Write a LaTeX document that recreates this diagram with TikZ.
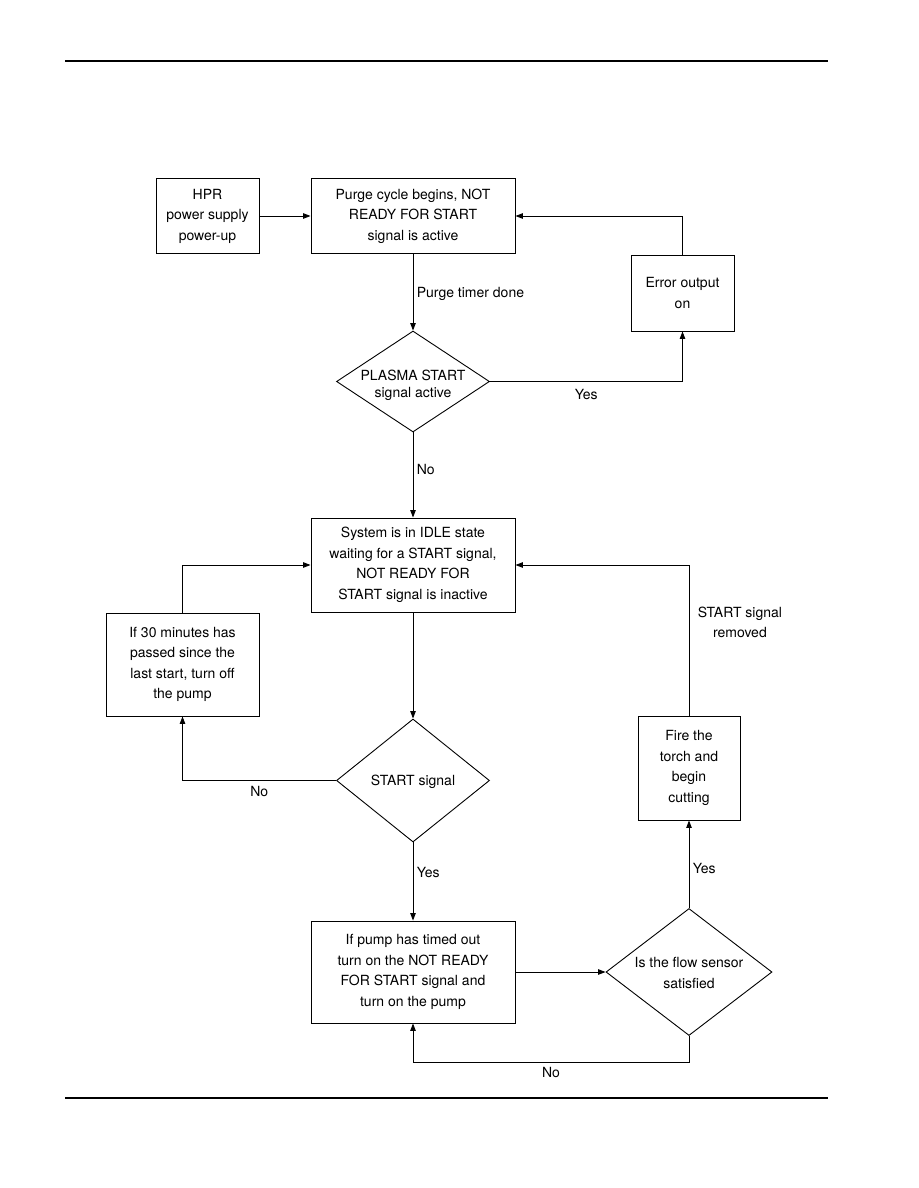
\documentclass[tikz,border=0pt]{standalone}
\usepackage{fontspec}
\setmainfont{TeX Gyre Heros}
\usetikzlibrary{arrows.meta,shapes.geometric}

\begin{document}
\begin{tikzpicture}[x=1pt, y=-1pt, >={Triangle[length=7.5pt,width=5.5pt]}, line width=0.9pt,
  font=\fontsize{14}{20.5}\selectfont,
  stepbox/.style={draw, align=center, inner sep=2pt},
  decision/.style={draw, diamond, inner sep=0pt}]
  \useasboundingbox (0,0) rectangle (918,1188);
  % page rules
  \draw[line width=1.2pt] (65,61) -- (828,61);
  \draw[line width=2.2pt] (65,1098) -- (828,1098);
  % ---------------------------------------------------------------- start-up
  \node[stepbox, minimum width=103pt, minimum height=75pt] (hpr) at (207.5,216) {HPR\\power supply\\power-up};
  \node[stepbox, minimum width=204pt, minimum height=75pt] (purge) at (413,216) {Purge cycle begins, NOT\\READY FOR START\\signal is active};
  \node[stepbox, minimum width=103pt, minimum height=76pt] (err) at (682.5,293) {Error output\\on};
  \node[decision, minimum width=153pt, minimum height=101pt,
    label={[align=center, yshift=-4pt, font=\fontsize{14}{17}\selectfont]center:{PLASMA START\\signal active}}] (plasma) at (413,381.5) {};
  \draw[->] (hpr) -- (purge);
  \draw[->] (purge) -- node[right, pos=0.52] {Purge timer done} (plasma);
  \draw[->] (plasma.east) -| node[pos=0.25, below, yshift=-4pt] {Yes} (err.south);
  \draw[->] (err.north) |- (purge.east);
  % ---------------------------------------------------------------- idle loop
  \node[stepbox, minimum width=204pt, minimum height=94pt] (idle) at (413,565) {System is in IDLE state\\waiting for a START signal,\\NOT READY FOR\\START signal is inactive};
  \node[stepbox, minimum width=153pt, minimum height=103pt] (mins) at (182.5,664.5) {If 30 minutes has\\passed since the\\last start, turn off\\the pump};
  \node[decision, minimum width=153pt, minimum height=123pt,
    label={[yshift=-1pt]center:{START signal}}] (start) at (413,780.5) {};
  \draw[->] (plasma) -- node[right, pos=0.43] {No} (idle);
  \draw[->] (idle) -- (start);
  \draw[->] (start.west) -| node[pos=0.25, below, yshift=-2pt] {No} (mins.south);
  \draw[->] (mins.north) |- (idle.west);
  % ---------------------------------------------------------------- cutting
  \node[stepbox, minimum width=204pt, minimum height=102pt] (pump) at (413,972) {If pump has timed out\\turn on the NOT READY\\FOR START signal and\\turn on the pump};
  \node[decision, minimum width=166pt, minimum height=127pt,
    label={[align=center, yshift=-1pt]center:{Is the flow sensor\\satisfied}}] (flow) at (689,972) {};
  \node[stepbox, minimum width=102pt, minimum height=104pt] (fire) at (689,768) {Fire the\\torch and\\begin\\cutting};
  \draw[->] (start) -- node[right, pos=0.38] {Yes} (pump);
  \draw[->] (pump) -- (flow);
  \draw[->] (flow) -- node[right, pos=0.45] {Yes} (fire);
  \draw[->] (fire.north) |- node[pos=0.31, right, align=center, xshift=5pt] {START signal\\removed} (idle.east);
  \draw[->] (flow.south) -- ++(0,26) -| node[pos=0.25, below, yshift=-2pt] {No} (pump.south);
\end{tikzpicture}
\end{document}
